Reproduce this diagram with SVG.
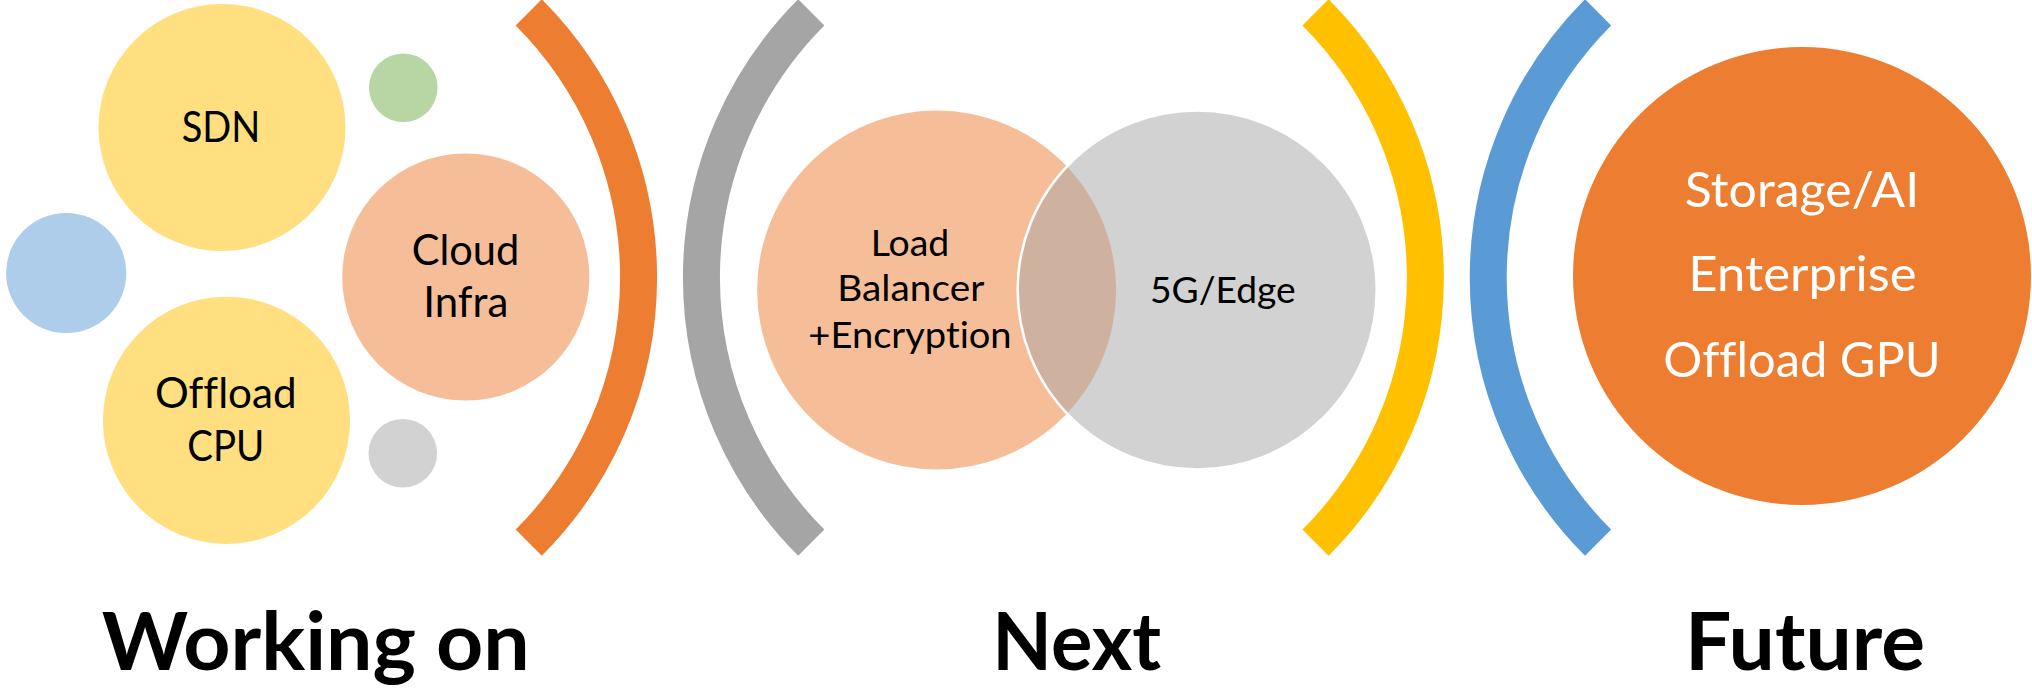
<svg xmlns="http://www.w3.org/2000/svg" width="2032" height="688" viewBox="0 0 2032 688">
<style>
  text { font-family: Lato, "Open Sans", "Liberation Sans", sans-serif; text-anchor: middle; font-variant-ligatures: no-common-ligatures no-discretionary-ligatures; }
  .t43 { font-size: 42.5px; fill: #000000; }
  .t37 { font-size: 36.8px; fill: #000000; }
  .t49 { font-size: 48.8px; fill: #FFFFFF; }
  .lbl { font-size: 80.5px; font-weight: 700; fill: #000000; }
  .arc { fill: none; stroke-width: 37; stroke-linecap: butt; }
</style>
<rect x="0" y="0" width="2032" height="688" fill="#FFFFFF"/>

<g id="brackets">
  <path class="arc" stroke="#ED7D31" d="M 528.7 12.3 A 375 375 0 0 1 528.7 542.7"/>
  <path class="arc" stroke="#A5A5A5" d="M 811.3 12.3 A 375 375 0 0 0 811.3 542.7"/>
  <path class="arc" stroke="#FFC000" d="M 1315.5 12.3 A 375 375 0 0 1 1315.5 542.7"/>
  <path class="arc" stroke="#5B9BD5" d="M 1598.1 12.3 A 375 375 0 0 0 1598.1 542.7"/>
</g>

<g id="node-sdn">
  <circle cx="222" cy="127.5" r="123.5" fill="#FFDF80"/>
  <text class="t43" x="221" y="141.7" textLength="78.6" lengthAdjust="spacingAndGlyphs">SDN</text>
</g>
<g id="node-green-dot">
  <circle cx="403.3" cy="87.7" r="34.3" fill="#B8D6A3"/>
</g>
<g id="node-blue-dot">
  <circle cx="66.2" cy="273" r="60.1" fill="#ADCDEA"/>
</g>
<g id="node-cloud-infra">
  <circle cx="465.8" cy="277" r="123.6" fill="#F6BE98"/>
  <text class="t43" x="465.5" y="265" textLength="107.7" lengthAdjust="spacingAndGlyphs">Cloud</text>
  <text class="t43" x="465.8" y="317.3" textLength="85" lengthAdjust="spacingAndGlyphs">Infra</text>
</g>
<g id="node-offload-cpu">
  <circle cx="226.5" cy="420.3" r="123.6" fill="#FFDF80"/>
  <text class="t43" x="225.8" y="408.3" textLength="141.7" lengthAdjust="spacingAndGlyphs">Offload</text>
  <text class="t43" x="225.8" y="460.7" textLength="77" lengthAdjust="spacingAndGlyphs">CPU</text>
</g>
<g id="node-gray-dot">
  <circle cx="402.8" cy="453.2" r="34.3" fill="#D2D2D2"/>
</g>

<g id="node-load-balancer">
  <circle cx="936.6" cy="290" r="179.5" fill="#ED7D31" fill-opacity="0.5"/>
  <text class="t37" x="910" y="255.7" textLength="78.7" lengthAdjust="spacingAndGlyphs">Load</text>
  <text class="t37" x="910.8" y="301" textLength="147" lengthAdjust="spacingAndGlyphs">Balancer</text>
  <text class="t37" x="910" y="348.3" textLength="203.3" lengthAdjust="spacingAndGlyphs">+Encryption</text>
</g>
<g id="node-5g-edge">
  <circle cx="1197.2" cy="290" r="179.5" fill="#A5A5A5" fill-opacity="0.5" stroke="#FFFFFF" stroke-width="2.5"/>
  <text class="t37" x="1222.8" y="303.3" textLength="145.7" lengthAdjust="spacingAndGlyphs">5G/Edge</text>
</g>

<g id="node-future">
  <circle cx="1802" cy="276" r="229" fill="#ED7D31"/>
  <text class="t49" x="1802" y="206.7" textLength="234.3" lengthAdjust="spacingAndGlyphs">Storage/AI</text>
  <text class="t49" x="1802.5" y="291" textLength="228.3" lengthAdjust="spacingAndGlyphs">Enterprise</text>
  <text class="t49" x="1802" y="376.7" textLength="277.3" lengthAdjust="spacingAndGlyphs">Offload GPU</text>
</g>

<g id="labels">
  <text class="lbl" x="315.7" y="670" textLength="427.8" lengthAdjust="spacingAndGlyphs">Working on</text>
  <text class="lbl" x="1076.7" y="670" textLength="168.7" lengthAdjust="spacingAndGlyphs">Next</text>
  <text class="lbl" x="1805" y="670" textLength="240" lengthAdjust="spacingAndGlyphs">Future</text>
</g>
</svg>
